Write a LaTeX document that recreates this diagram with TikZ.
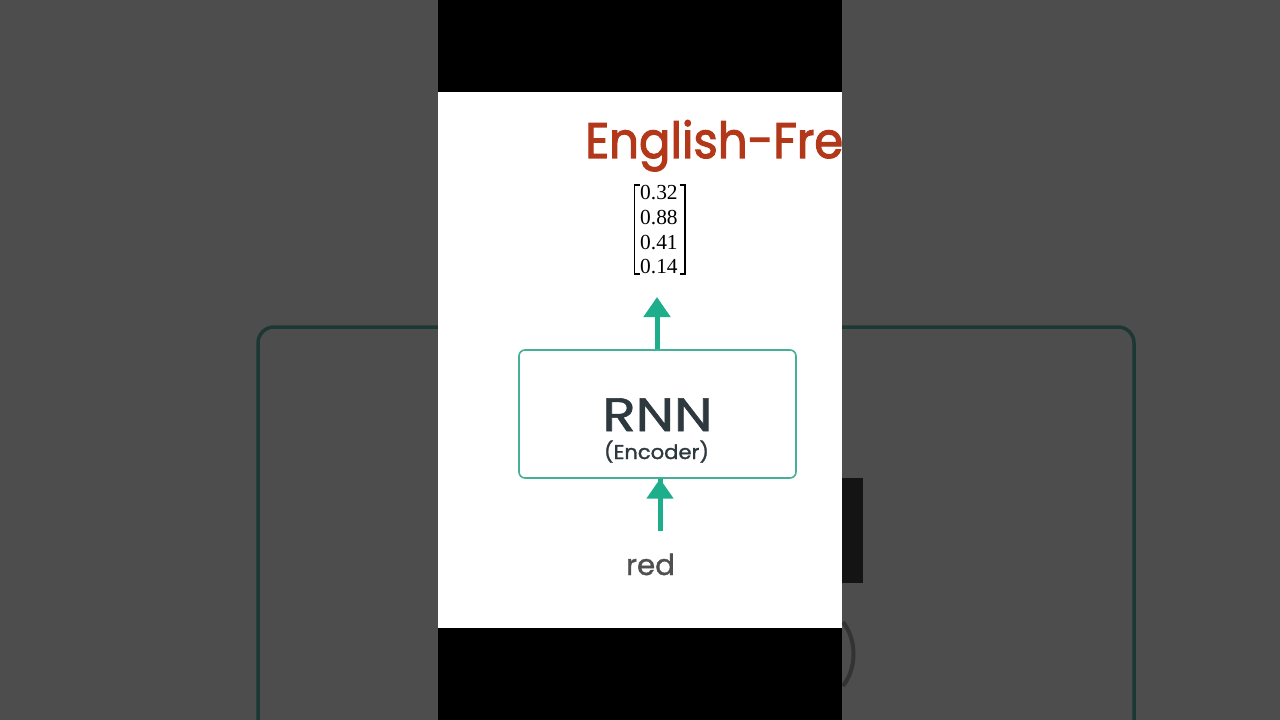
\documentclass[tikz,border=0pt]{standalone}
\usepackage{fontspec}
\usepackage{graphicx}
\setmainfont{Poppins}
\newfontfamily\medfont{Poppins}[FakeBold=1.3]
\newfontfamily\titlefont{Poppins}[FakeBold=2.2]
\newfontfamily\numfont{Liberation Serif}
\usetikzlibrary{arrows.meta}
\definecolor{bggray}{HTML}{4D4D4D}
\definecolor{bgline}{HTML}{1C3832}
\definecolor{titlered}{HTML}{B3381A}
\definecolor{teal}{HTML}{1FAE8C}
\definecolor{boxline}{HTML}{45B096}
\definecolor{slate}{HTML}{2E393F}
\definecolor{wordgray}{HTML}{505050}
\tikzset{
  arr/.style={draw=teal, line width=5bp, -{Triangle[width=26bp,length=20bp]}},
  rnnbox/.style={draw=boxline, line width=1.6bp, rounded corners=6bp, minimum width=277bp, minimum height=128bp, inner sep=0pt},
  txt/.style={inner sep=0pt, anchor=base},
  bracket/.style={draw=black, line width=1.4bp}
}
\begin{document}
\begin{tikzpicture}[x=1bp,y=-1bp]
\useasboundingbox (0,0) rectangle (1280,720);
\fill[bggray] (0,0) rectangle (1280,720);
\begin{scope}
\clip (0,0) rectangle (1280,720);
\draw[bgline, line width=3.5bp, rounded corners=16bp] (258,760) -- (258,327) -- (1134,327) -- (1134,760);
\fill[black!92] (842,478) rectangle (863,583);
\draw[black!80, line width=4bp] (843,622) .. controls (857,640) and (857,668) .. (843,686);
\end{scope}
\fill[black] (438,0) rectangle (842,92);
\fill[black] (438,628) rectangle (842,720);
\fill[white] (438,92) rectangle (842,628);
\node[txt, anchor=base west, text=titlered, font=\fontsize{50}{55}\titlefont] (title) at (585,158) {\resizebox{258bp}{\height}{English-Fre}};
\node[inner sep=0pt, anchor=north west, font=\fontsize{21.5}{24.7}\numfont] (vec) at (640,182.5) {\begin{tabular}{@{}l@{}}0.32\\0.88\\0.41\\0.14\end{tabular}};
\draw[bracket] (640,185) -- (634.5,185) -- (634.5,274) -- (640,274);
\draw[bracket] (679.5,185) -- (685,185) -- (685,274) -- (679.5,274);
\node[rnnbox] (rnn) at (657.5,414) {};
\node[txt, text=slate, font=\fontsize{47}{50}\medfont] (rnnlabel) at (657.5,431) {\resizebox{110bp}{\height}{RNN}};
\node[txt, text=slate, font=\fontsize{20}{24}\medfont] (enc) at (656.5,459) {\resizebox{105bp}{\height}{(Encoder)}};
\node[txt, text=wordgray, font=\fontsize{29}{32}\medfont] (word) at (650.5,575) {\resizebox{49bp}{\height}{red}};
\coordinate (outtip) at (657,297);
\coordinate (intail) at (660,531);
\draw[arr] (rnn.north -| outtip) -- (outtip);
\draw[arr] (intail) -- (intail |- rnn.south) -- ++(0,-0.1);
\end{tikzpicture}
\end{document}
